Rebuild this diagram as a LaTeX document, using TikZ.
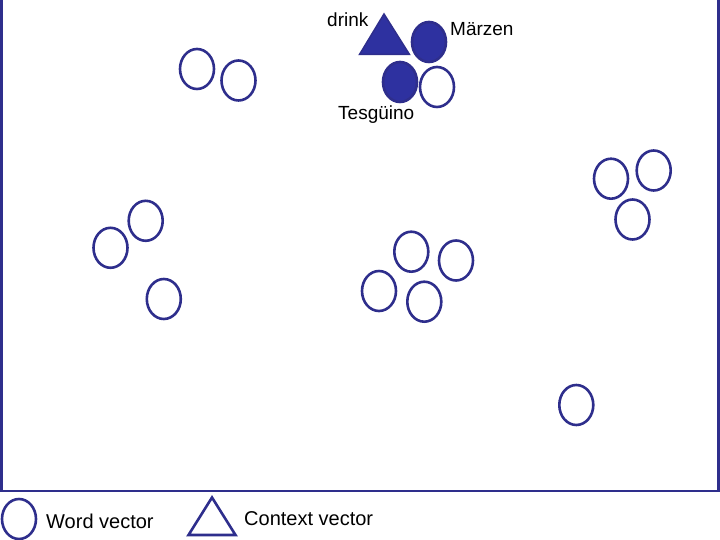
\documentclass[tikz,border=0pt]{standalone}
\usepackage{fontspec}
\setmainfont{Liberation Sans}
\usetikzlibrary{shapes.geometric}
\definecolor{vblue}{RGB}{46,46,140}
\definecolor{vfill}{RGB}{46,49,160}
\tikzset{
  wvec/.style={ellipse, draw=vblue, line width=2.6pt, minimum width=34pt, minimum height=40pt, inner sep=0pt},
  wfill/.style={wvec, fill=vfill},
  lbl/.style={anchor=base west, inner sep=0pt, font=\fontsize{19}{22}\selectfont},
  leg/.style={anchor=base west, inner sep=0pt, font=\fontsize{20}{24}\selectfont},
  frame/.style={draw=vblue, line width=2.6pt}
}
\begin{document}
\begin{tikzpicture}[x=1pt,y=-1pt]
\useasboundingbox (0,0) rectangle (720,540);
% frame
\draw[frame] (1.3,-2) -- (1.3,491) -- (718.7,491) -- (718.7,-2);
% top cluster
\draw[draw=vblue, fill=vfill, line width=1.5pt, line join=miter] (359.5,54.5) -- (409.5,54.5) -- (384,14) -- cycle;
\node[wfill] (marzen) at (429,42) {};
\node[wfill] (tesguino) at (400,82) {};
\node[wvec] (t2) at (437,87) {};
\node[lbl] (ldrink) at (327,27) {drink};
\node[lbl] (lmarzen) at (450,36) {Märzen};
\node[lbl] (ltes) at (338,120) {Tesgüino};
% other word vectors
\node[wvec] (a1) at (197,69) {};
\node[wvec] (a2) at (238.5,80.5) {};
\node[wvec] (b1) at (145.7,220.8) {};
\node[wvec] (b2) at (110.5,247.8) {};
\node[wvec] (b3) at (163.8,299) {};
\node[wvec] (c1) at (411.3,251.7) {};
\node[wvec] (c2) at (456,260.5) {};
\node[wvec] (c3) at (379,291) {};
\node[wvec] (c4) at (424.3,301.7) {};
\node[wvec] (d1) at (611,178.7) {};
\node[wvec] (d2) at (653.7,170.5) {};
\node[wvec] (d3) at (632.5,219.5) {};
\node[wvec] (e1) at (576.3,405) {};
% legend
\node[wvec] (legw) at (19,519) {};
\node[leg] (legwt) at (46,528) {Word vector};
\draw[draw=vblue, line width=2.6pt, line join=miter] (188.5,535) -- (235.5,535) -- (212,497.5) -- cycle;
\node[leg] (legct) at (244,525) {Context vector};
\end{tikzpicture}
\end{document}
